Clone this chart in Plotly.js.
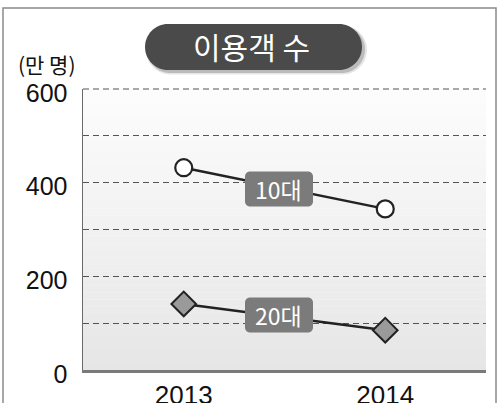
<!DOCTYPE html>
<html><head><meta charset="utf-8">
<script src="https://cdn.plot.ly/plotly-3.0.1.min.js"></script>
<style>html,body{margin:0;padding:0;background:#fff}#c{width:500px;height:403px}</style>
</head><body><div id="c"></div>
<script>
const years = ['2013', '2014'];
const teens = [432, 344];
const twenties = [141, 85];
const seriesNames = ['10대', '20대'];
const chartTitle = '이용객 수';
const unitLabel = '(만 명)';
const yTickVals = [0, 200, 400, 600];

const W = 500, H = 403, L = 83, R = 14, T = 89, B = 33;
const pw = W - L - R, ph = H - T - B;
const px = x => (x - L) / pw;
const py = y => (H - B - y) / ph;

function roundRect(hw, hh, r) {
  const k = 0.5523 * r;
  const a = hw - r, b = hh - r;
  return `M ${-a},${-hh} L ${a},${-hh} C ${a + k},${-hh} ${hw},${-b - k} ${hw},${-b} L ${hw},${b} C ${hw},${b + k} ${a + k},${hh} ${a},${hh} L ${-a},${hh} C ${-a - k},${hh} ${-hw},${b + k} ${-hw},${b} L ${-hw},${-b} C ${-hw},${-b - k} ${-a - k},${-hh} ${-a},${-hh} Z`;
}

const shapes = [];
// gradient background bands
const N = 40;
for (let i = 0; i < N; i++) {
  const t = i / N;
  const c = Math.round(253 - (253 - 230) * (1 - t));
  shapes.push({type: 'rect', xref: 'paper', yref: 'paper', x0: 0, x1: 1, y0: t, y1: (i + 1) / N + 0.001,
    fillcolor: `rgb(${c},${c},${c})`, line: {width: 0}, layer: 'below'});
}
// top dashed gridline (at the range edge, which plotly skips)
shapes.push({type: 'line', xref: 'paper', yref: 'paper', x0: 0, x1: 1, y0: 1, y1: 1,
  line: {color: '#555', width: 1, dash: '6px,4px'}, layer: 'below'});
// outer frame
shapes.push({type: 'rect', xref: 'paper', yref: 'paper', x0: px(3), x1: px(496), y0: py(8), y1: py(420),
  fillcolor: 'rgba(0,0,0,0)', line: {color: '#8a8a8a', width: 1.5}, layer: 'below'});
// title pill shadow + pill
[[3, 'rgba(0,0,0,0.10)', 110.5, 24.5], [2.5, 'rgba(0,0,0,0.18)', 109, 23.5]].forEach(s => {
  shapes.push({type: 'path', xref: 'paper', yref: 'paper', xsizemode: 'pixel', ysizemode: 'pixel',
    xanchor: px(253.5 + s[0]), yanchor: py(47 + s[0]), path: roundRect(s[2], s[3], s[3]), fillcolor: s[1], line: {width: 0}});
});
shapes.push({type: 'path', xref: 'paper', yref: 'paper', xsizemode: 'pixel', ysizemode: 'pixel',
  xanchor: px(253.5), yanchor: py(47), path: roundRect(108.5, 23, 23), fillcolor: '#4a4a4a', line: {width: 0}});
// label boxes
[189, 315].forEach(cy => {
  shapes.push({type: 'path', xref: 'paper', yref: 'paper', xsizemode: 'pixel', ysizemode: 'pixel',
    xanchor: px(279), yanchor: py(cy), path: roundRect(34, 17.5, 5), fillcolor: '#7b7b7b', line: {width: 0}, layer: 'above'});
});

const ann = (text, x, y, size, color) => ({text, xref: 'paper', yref: 'paper', x: px(x), y: py(y),
  xanchor: 'center', yanchor: 'middle', showarrow: false,
  font: {family: 'Noto Sans CJK KR', size, color}});
const annotations = [
  ann(chartTitle, 251, 46, 30, '#ffffff'),
  ann(unitLabel, 47, 64, 21, '#111'),
  ann(seriesNames[0], 278, 189, 23, '#ffffff'),
  ann(seriesNames[1], 278, 315, 23, '#ffffff')
];

const data = [
  {x: years, y: teens, name: seriesNames[0], type: 'scatter', mode: 'lines+markers',
   line: {color: '#222', width: 2.5},
   marker: {symbol: 'circle', size: 17, color: '#ffffff', line: {color: '#222', width: 2.2}}},
  {x: years, y: twenties, name: seriesNames[1], type: 'scatter', mode: 'lines+markers',
   line: {color: '#222', width: 2.5},
   marker: {symbol: 'diamond', size: 19, color: '#9a9a9a', line: {color: '#222', width: 2}}}
];

const layout = {
  width: W, height: H,
  margin: {l: L, r: R, t: T, b: B, pad: 0},
  paper_bgcolor: '#ffffff', plot_bgcolor: 'rgba(0,0,0,0)',
  showlegend: false,
  font: {family: 'Liberation Sans, Arial, sans-serif', color: '#111'},
  xaxis: {type: 'category', range: [-0.5, 1.5], showgrid: false, zeroline: false,
    showline: true, linecolor: '#7a7a7a', linewidth: 2.5, ticks: '',
    tickfont: {size: 26, color: '#111'}, fixedrange: true},
  yaxis: {range: [0, 600], tickvals: yTickVals, showgrid: true, gridcolor: '#555', griddash: '6px,4px', gridwidth: 1,
    minor: {dtick: 100, tick0: 0, showgrid: true, gridcolor: '#555', griddash: '6px,4px', gridwidth: 1},
    zeroline: false, showline: true, linecolor: '#6a6a6a', linewidth: 1.5, ticks: '',
    ticklabelstandoff: 9, ticklabelshift: 4, tickfont: {size: 25, color: '#111'}, fixedrange: true},
  shapes: shapes,
  annotations: annotations
};

Plotly.newPlot('c', data, layout, {displayModeBar: false, staticPlot: true});
</script>
</body></html>
